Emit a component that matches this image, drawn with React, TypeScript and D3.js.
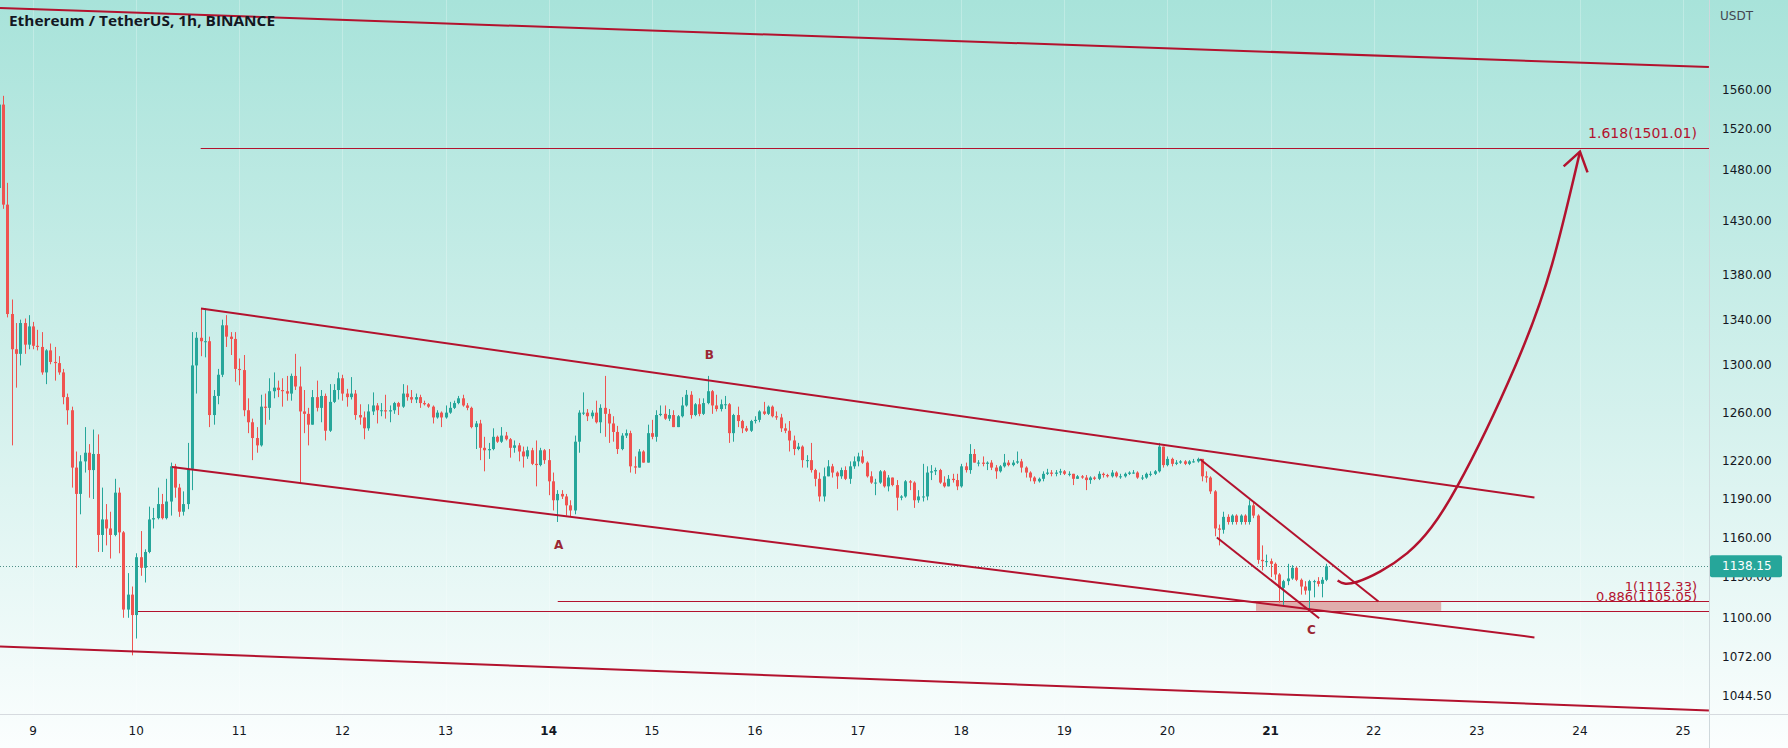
import React from 'react';
import * as d3 from 'd3';

// ---- data (ETH/USDT 1h, BINANCE, hours counted from day 9 00:00) ----
const startHour = -8;
const firstOpen = 1462;
const closes = [
  1545, 1446, 1345, 1314, 1310, 1337, 1318, 1334,
  1317, 1316, 1294, 1313, 1303, 1302, 1294, 1273, 1262, 1215, 1194, 1220, 1227, 1213, 1226, 1162, 1174, 1167, 1162, 1195, 1164, 1106, 1117, 1102,
  1145, 1137, 1149, 1174, 1175, 1186, 1175, 1188, 1216, 1199, 1180, 1186, 1214, 1300, 1324, 1321, 1321, 1258, 1274, 1292, 1335, 1325, 1323, 1297,
  1296, 1262, 1252, 1239, 1233, 1265, 1264, 1278, 1281, 1279, 1278, 1276, 1291, 1282, 1261, 1259, 1250, 1273, 1264, 1274, 1245, 1269, 1279, 1289,
  1276, 1273, 1276, 1258, 1256, 1247, 1261, 1266, 1262, 1262, 1261, 1262, 1268, 1265, 1276, 1273, 1271, 1273, 1268, 1267, 1265, 1256, 1260, 1256,
  1260, 1264, 1268, 1272, 1266, 1264, 1248, 1251, 1231, 1229, 1230, 1240, 1236, 1241, 1238, 1231, 1233, 1228, 1224, 1229, 1218, 1217, 1229, 1221,
  1204, 1189, 1194, 1192, 1185, 1181, 1236, 1260, 1260, 1257, 1260, 1252, 1264, 1259, 1251, 1244, 1230, 1241, 1243, 1216, 1215, 1228, 1219, 1243,
  1240, 1258, 1259, 1255, 1258, 1248, 1257, 1266, 1275, 1258, 1267, 1259, 1268, 1278, 1266, 1263, 1267, 1267, 1243, 1258, 1253, 1247, 1245, 1253,
  1254, 1261, 1259, 1265, 1257, 1256, 1247, 1245, 1237, 1230, 1232, 1221, 1221, 1213, 1206, 1192, 1208, 1216, 1211, 1208, 1213, 1206, 1216, 1220,
  1224, 1219, 1208, 1203, 1203, 1212, 1200, 1207, 1201, 1191, 1192, 1204, 1203, 1189, 1192, 1192, 1211, 1212, 1213, 1203, 1200, 1206, 1205, 1200,
  1216, 1213, 1226, 1219, 1219, 1218, 1219, 1215, 1212, 1216, 1219, 1217, 1219, 1220, 1215, 1211, 1207, 1204, 1206, 1210, 1211, 1210, 1211, 1212,
  1210, 1210, 1206, 1208, 1207, 1205, 1207, 1206, 1210, 1209, 1208, 1211, 1208, 1208, 1210, 1211, 1211, 1207, 1207, 1210, 1210, 1212, 1232, 1217,
  1222, 1218, 1219, 1220, 1218, 1220, 1220, 1222, 1208, 1207, 1196, 1167, 1166, 1176, 1172, 1177, 1172, 1177, 1172, 1185, 1177, 1143, 1142, 1142,
  1140, 1132, 1122, 1127, 1129, 1137, 1128, 1123, 1120, 1127, 1127, 1125, 1128, 1138.15,
];
const highs = [
  1556, 1554, 1467, 1358, 1337, 1340, 1341, 1344,
  1338, 1331, 1329, 1314, 1319, 1316, 1308, 1297, 1276, 1265, 1228, 1225, 1248, 1234, 1246, 1242, 1199, 1186, 1180, 1206, 1199, 1165, 1133, 1123,
  1148, 1165, 1151, 1184, 1183, 1199, 1194, 1206, 1219, 1218, 1202, 1196, 1235, 1329, 1329, 1350, 1350, 1325, 1279, 1297, 1340, 1344, 1329, 1329,
  1306, 1309, 1272, 1255, 1248, 1275, 1276, 1289, 1294, 1287, 1289, 1291, 1293, 1310, 1299, 1279, 1264, 1279, 1287, 1279, 1276, 1284, 1284, 1294,
  1292, 1280, 1290, 1279, 1267, 1261, 1267, 1277, 1268, 1268, 1275, 1266, 1269, 1269, 1284, 1283, 1279, 1276, 1275, 1270, 1268, 1266, 1262, 1261,
  1266, 1269, 1270, 1274, 1275, 1268, 1265, 1253, 1254, 1240, 1235, 1247, 1241, 1248, 1244, 1239, 1237, 1235, 1232, 1232, 1231, 1237, 1231, 1230,
  1230, 1211, 1197, 1197, 1194, 1189, 1241, 1262, 1277, 1263, 1262, 1270, 1267, 1291, 1263, 1257, 1249, 1243, 1246, 1245, 1224, 1230, 1229, 1250,
  1254, 1262, 1266, 1266, 1263, 1262, 1258, 1273, 1279, 1278, 1268, 1272, 1272, 1291, 1279, 1275, 1271, 1274, 1268, 1259, 1265, 1254, 1249, 1254,
  1257, 1262, 1269, 1266, 1266, 1261, 1259, 1251, 1253, 1241, 1235, 1233, 1225, 1235, 1214, 1211, 1215, 1221, 1218, 1212, 1215, 1216, 1220, 1224,
  1227, 1229, 1220, 1212, 1206, 1213, 1213, 1209, 1205, 1205, 1193, 1205, 1205, 1204, 1197, 1218, 1216, 1217, 1215, 1214, 1208, 1209, 1210, 1210,
  1218, 1219, 1234, 1230, 1221, 1224, 1220, 1221, 1217, 1217, 1226, 1221, 1221, 1228, 1222, 1216, 1212, 1208, 1207, 1212, 1214, 1213, 1213, 1214,
  1213, 1212, 1210, 1209, 1209, 1209, 1208, 1208, 1212, 1211, 1210, 1213, 1212, 1210, 1211, 1212, 1213, 1212, 1209, 1211, 1212, 1213, 1235, 1228,
  1224, 1223, 1221, 1221, 1221, 1221, 1222, 1223, 1222, 1212, 1208, 1197, 1170, 1180, 1178, 1178, 1178, 1178, 1178, 1189, 1188, 1178, 1154, 1147,
  1144, 1141, 1133, 1128, 1140, 1139, 1138, 1129, 1127, 1128, 1128, 1130, 1130, 1140,
];
const lows = [
  1455, 1442, 1342, 1233, 1281, 1300, 1310, 1314,
  1314, 1313, 1292, 1284, 1301, 1287, 1292, 1267, 1250, 1199, 1137, 1178, 1211, 1191, 1190, 1149, 1149, 1154, 1144, 1161, 1148, 1100, 1100, 1073,
  1085, 1131, 1126, 1148, 1167, 1174, 1174, 1174, 1177, 1191, 1176, 1177, 1182, 1197, 1276, 1308, 1307, 1248, 1250, 1267, 1290, 1316, 1309, 1286,
  1283, 1257, 1243, 1221, 1227, 1232, 1250, 1254, 1272, 1273, 1265, 1270, 1270, 1279, 1202, 1243, 1233, 1250, 1261, 1252, 1237, 1244, 1268, 1271,
  1270, 1265, 1271, 1254, 1250, 1238, 1245, 1258, 1251, 1257, 1255, 1252, 1259, 1258, 1264, 1270, 1268, 1268, 1264, 1266, 1264, 1251, 1255, 1248,
  1255, 1259, 1263, 1267, 1265, 1262, 1247, 1230, 1221, 1212, 1222, 1229, 1235, 1235, 1237, 1223, 1227, 1220, 1215, 1222, 1217, 1200, 1216, 1218,
  1193, 1181, 1172, 1190, 1177, 1176, 1178, 1227, 1258, 1253, 1255, 1251, 1243, 1240, 1235, 1236, 1226, 1229, 1239, 1211, 1210, 1215, 1219, 1219,
  1238, 1236, 1257, 1254, 1253, 1248, 1248, 1256, 1265, 1255, 1257, 1257, 1258, 1267, 1259, 1261, 1261, 1263, 1235, 1236, 1248, 1243, 1244, 1244,
  1251, 1252, 1258, 1258, 1256, 1254, 1244, 1243, 1228, 1225, 1229, 1215, 1215, 1211, 1200, 1188, 1188, 1208, 1207, 1198, 1206, 1205, 1202, 1214,
  1216, 1218, 1207, 1202, 1193, 1202, 1199, 1196, 1200, 1181, 1189, 1191, 1197, 1183, 1187, 1188, 1189, 1205, 1209, 1202, 1199, 1200, 1203, 1197,
  1199, 1211, 1210, 1219, 1216, 1216, 1213, 1213, 1206, 1211, 1215, 1216, 1216, 1218, 1211, 1207, 1204, 1202, 1203, 1204, 1209, 1208, 1208, 1209,
  1209, 1208, 1201, 1206, 1206, 1197, 1202, 1205, 1205, 1207, 1207, 1207, 1207, 1206, 1207, 1209, 1210, 1206, 1205, 1206, 1208, 1209, 1211, 1215,
  1216, 1216, 1217, 1218, 1217, 1217, 1219, 1219, 1204, 1203, 1194, 1161, 1154, 1163, 1170, 1170, 1170, 1170, 1170, 1170, 1175, 1140, 1135, 1138,
  1130, 1128, 1111, 1109, 1124, 1128, 1127, 1117, 1117, 1106, 1115, 1123, 1115, 1127,
];

const dayTicks = [9, 10, 11, 12, 13, 14, 15, 16, 17, 18, 19, 20, 21, 22, 23, 24, 25];
const boldDays = [14, 21];
const priceTicks = [1560, 1520, 1480, 1430, 1380, 1340, 1300, 1260, 1220, 1190, 1160, 1130, 1100, 1072, 1044.5];
const lastPrice = 1138.15;
const title = 'Ethereum / TetherUS, 1h, BINANCE';
const currency = 'USDT';

// fibonacci levels
const fibRatios = ['1.618', '1', '0.886'];
const fibPrices = [1501.01, 1112.33, 1105.05];
const fibStarts = [39, 122.1, 24.1];

// trend lines as [hour, price] pairs
const trendLines: [number, number][][] = [
  [[-7.7, 1647.0], [390.0, 1583.9]],
  [[-7.7, 1079.3], [390.0, 1034.6]],
  [[39.07, 1350.0], [349.4, 1191.2]],
  [[32.3, 1215.5], [349.4, 1085.8]],
  [[271.6, 1221.7], [313.1, 1111.9]],
  [[275.5, 1160.1], [299.3, 1099.7]],
];
// projected path [hour, price]
const projection: [number, number][] = [
  [303.6, 1127.5], [308.2, 1126.6], [319.8, 1148.1], [331.4, 1199.8], [345.0, 1300.0], [353.5, 1390.0], [360.0, 1497.6],
];
const zoneHours = [284.6, 327.7];
const zonePrices = [1112.33, 1105.05];
const waveNames = ['A', 'B', 'C'];
const waveHours = [122.3, 157.4, 297.5];
const wavePrices = [1154.3, 1309.4, 1090.8];

export default function App() {
  const W = 1788, H = 748, PR = 1709, PB = 714;
  const x = d3.scaleLinear().domain([0, 384]).range([33.1, 1683.1]);
  const y = d3.scaleLog().domain([1044.5, 1560]).range([696, 90]);
  const up = '#26a69a', down = '#ef5350', lineRed = '#b3122e';
  const axisFont = "'DejaVu Sans', sans-serif";

  const candles = closes.map((c, i) => {
    const o = i === 0 ? firstOpen : closes[i - 1];
    const hi = Math.max(highs[i], o, c);
    const lo = Math.min(lows[i], o, c);
    const cx = Math.round(x(startHour + i));
    const col = c >= o ? up : down;
    const yt = y(Math.max(o, c)), yb = y(Math.min(o, c));
    return (
      <g key={i}>
        <line x1={cx + 0.5} x2={cx + 0.5} y1={y(hi)} y2={y(lo)} stroke={col} strokeWidth={1} />
        <rect x={cx - 1} width={3} y={yt} height={Math.max(1, yb - yt)} fill={col} />
      </g>
    );
  });

  const lineGen = d3.line<[number, number]>()
    .x((d) => x(d[0]))
    .y((d) => y(d[1]))
    .curve(d3.curveNatural);
  const projPx = projection.map((d) => [x(d[0]), y(d[1])]);
  const tip = projPx[projPx.length - 1];
  const prev = projPx[projPx.length - 2];
  const dx = tip[0] - prev[0], dy = tip[1] - prev[1];
  const len = Math.hypot(dx, dy);
  const bx = -dx / len, by = -dy / len;
  const arm = (ang: number) => {
    const a = (ang * Math.PI) / 180;
    return [tip[0] + 22 * (bx * Math.cos(a) - by * Math.sin(a)), tip[1] + 22 * (bx * Math.sin(a) + by * Math.cos(a))];
  };
  const a1 = arm(34), a2 = arm(-34);

  const yLast = y(lastPrice);

  return (
    <svg width={W} height={H} style={{ position: 'absolute', left: 0, top: 0, display: 'block' }}>
      <defs>
        <linearGradient id="bg" x1="0" y1="0" x2="0" y2="1">
          <stop offset="0" stopColor="#a8e3da" />
          <stop offset="0.55" stopColor="#d4f1ed" />
          <stop offset="1" stopColor="#fbfefe" />
        </linearGradient>
        <clipPath id="plot">
          <rect x={0} y={0} width={PR} height={PB} />
        </clipPath>
      </defs>
      <rect x={0} y={0} width={W} height={H} fill="url(#bg)" />

      {dayTicks.map((d) => (
        <line key={d} x1={Math.round(x((d - 9) * 24)) + 0.5} x2={Math.round(x((d - 9) * 24)) + 0.5} y1={0} y2={PB}
          stroke="#ffffff" strokeOpacity={0.25} />
      ))}

      <g clipPath="url(#plot)">
        {fibPrices.map((p, i) => (
          <line key={i} x1={x(fibStarts[i])} x2={PR} y1={Math.round(y(p)) + 0.5} y2={Math.round(y(p)) + 0.5}
            stroke={lineRed} strokeWidth={1} />
        ))}
        <rect x={x(zoneHours[0])} width={x(zoneHours[1]) - x(zoneHours[0])} y={y(zonePrices[0])}
          height={y(zonePrices[1]) - y(zonePrices[0])} fill="#d24848" fillOpacity={0.42} />
        <line x1={0} x2={PR} y1={Math.round(yLast) + 0.5} y2={Math.round(yLast) + 0.5} stroke="#4f8f88"
          strokeDasharray="1 2" strokeWidth={1} />

        {candles}

        {trendLines.map((l, i) => (
          <line key={i} x1={x(l[0][0])} y1={y(l[0][1])} x2={x(l[1][0])} y2={y(l[1][1])}
            stroke={lineRed} strokeWidth={2} />
        ))}

        <path d={lineGen(projection) || ''} fill="none" stroke={lineRed} strokeWidth={2.5} />
        <path d={`M${a1[0]},${a1[1]}L${tip[0]},${tip[1]}L${a2[0]},${a2[1]}`} fill="none" stroke={lineRed}
          strokeWidth={2.5} strokeLinejoin="miter" />

        {fibPrices.map((p, i) => (
          <text key={i} x={1697} y={y(p) - (i === 0 ? 10 : 9.5)} textAnchor="end" fontFamily={axisFont}
            fontSize={i === 0 ? 14 : 13} fill={lineRed}>
            {`${fibRatios[i]}(${p.toFixed(2)})`}
          </text>
        ))}

        {waveNames.map((n, i) => (
          <text key={n} x={x(waveHours[i])} y={y(wavePrices[i])} textAnchor="middle" dominantBaseline="central"
            fontFamily={axisFont} fontSize={12} fontWeight="bold" fill="#9b2733">{n}</text>
        ))}
      </g>

      <text x={9} y={26} fontFamily="'Open Sans', sans-serif" fontWeight="bold" fontSize={15} fill="#131722"
        textLength={266} lengthAdjust="spacingAndGlyphs">{title}</text>

      <line x1={PR + 0.5} x2={PR + 0.5} y1={0} y2={H} stroke="#cfd8dc" />
      <line x1={0} x2={W} y1={PB + 0.5} y2={PB + 0.5} stroke="#d6dadf" />

      <text x={1720} y={16} dominantBaseline="central" fontFamily={axisFont} fontSize={12} fill="#434651">{currency}</text>
      {priceTicks.map((v) => (
        <text key={v} x={1722} y={y(v)} dominantBaseline="central" fontFamily={axisFont} fontSize={12} fill="#131722">
          {v.toFixed(2)}
        </text>
      ))}
      <rect x={PR + 1} y={yLast - 11} width={72} height={22} rx={2} fill={up} />
      <text x={1722} y={yLast} dominantBaseline="central" fontFamily={axisFont} fontSize={12} fill="#ffffff">
        {lastPrice.toFixed(2)}
      </text>

      {dayTicks.map((d) => (
        <text key={d} x={x((d - 9) * 24)} y={731} textAnchor="middle" dominantBaseline="central" fontFamily={axisFont}
          fontSize={12} fontWeight={boldDays.includes(d) ? 'bold' : 'normal'} fill="#131722">{d}</text>
      ))}
    </svg>
  );
}
